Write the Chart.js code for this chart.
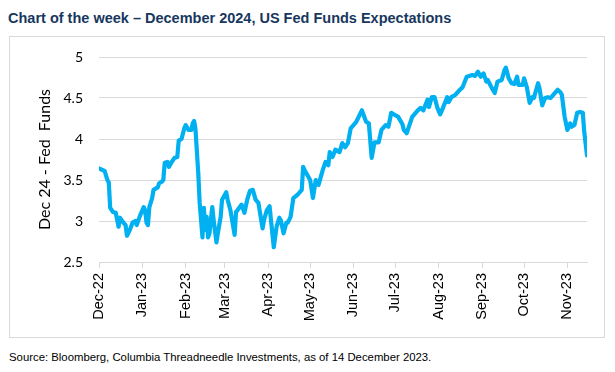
<!DOCTYPE html>
<html>
<head>
<meta charset="utf-8">
<script src="https://cdn.jsdelivr.net/npm/chart.js@4/dist/chart.umd.min.js"></script>
<style>
  html, body { margin: 0; padding: 0; background: #fff; }
  body { width: 615px; height: 372px; position: relative; overflow: hidden; }
  #title {
    position: absolute; left: 8px; top: 11px;
    font: bold 14.5px "Liberation Sans", Arial, sans-serif; line-height: 1;
    color: #17375e; white-space: nowrap;
  }
  #frame {
    position: absolute; left: 9px; top: 36px; width: 596px; height: 302px;
    box-sizing: border-box; border: 1px solid #d9d9d9;
  }
  #frame canvas { display: block; }
  #source {
    position: absolute; left: 9px; top: 352px;
    font: 11.35px "Liberation Sans", Arial, sans-serif; line-height: 1;
    color: #000; white-space: nowrap;
  }
</style>
</head>
<body>
<div id="title">Chart of the week – December 2024, US Fed Funds Expectations</div>
<div id="frame"><canvas id="fedChart" width="594" height="300"></canvas></div>
<div id="source">Source: Bloomberg, Columbia Threadneedle Investments, as of 14 December 2023.</div>

<script>
// days counted from 1 Dec 2022
const monthLabels = ['Dec-22', 'Jan-23', 'Feb-23', 'Mar-23', 'Apr-23', 'May-23', 'Jun-23', 'Jul-23', 'Aug-23', 'Sep-23', 'Oct-23', 'Nov-23'];
const monthDays = [0, 31, 62, 90, 121, 151, 182, 212, 243, 274, 304, 335];

const days = [
  0, 4, 6, 7, 8, 10, 12, 14, 15, 17, 19, 20, 22, 24, 26, 27, 29, 32, 33, 34,
  35, 36, 38, 39, 42, 43, 45, 46, 47, 49, 50, 52, 54, 56, 57, 59, 61, 62, 64, 66,
  67, 68, 69, 71, 72, 74, 75, 76, 77, 78, 79, 81, 82, 84, 85, 87, 88, 91, 92, 94,
  97, 98, 99, 102, 104, 106, 108, 110, 112, 114, 117, 118, 120, 122, 123, 125, 127, 129, 130, 132,
  134, 135, 137, 139, 142, 145, 146, 147, 151, 153, 155, 157, 160, 162, 164, 165, 167, 169, 172, 174,
  176, 178, 180, 184, 188, 191, 193, 195, 197, 200, 202, 205, 207, 209, 212, 214, 217, 218, 220, 222,
  224, 228, 230, 232, 235, 236, 238, 240, 242, 244, 246, 249, 250, 252, 255, 258, 260, 263, 267, 269,
  271, 273, 275, 277, 278, 281, 283, 285, 288, 290, 291, 293, 295, 297, 299, 300, 303, 304, 306, 308,
  310, 311, 314, 315, 317, 319, 321, 323, 325, 328, 330, 331, 333, 335, 337, 338, 340, 342, 344, 346,
  347, 349
];
const dec24Rate = [
  3.64, 3.61, 3.50, 3.47, 3.16, 3.11, 3.10, 2.93, 3.04, 2.99, 2.95, 2.82, 2.89, 2.98, 3.00, 2.95, 3.05, 3.17, 3.13, 2.98,
  2.95, 3.17, 3.28, 3.38, 3.41, 3.46, 3.48, 3.50, 3.71, 3.72, 3.66, 3.72, 3.77, 3.78, 3.98, 4.00, 4.13, 4.17, 4.11, 4.11,
  4.19, 4.22, 4.12, 3.58, 3.22, 2.80, 3.16, 2.89, 3.05, 2.80, 2.85, 3.17, 3.01, 2.74, 2.85, 3.05, 3.26, 3.35, 3.26, 3.13,
  2.83, 3.11, 3.13, 3.20, 3.10, 3.26, 3.37, 3.38, 3.26, 3.22, 2.91, 3.01, 3.13, 3.18, 3.01, 2.68, 2.93, 3.04, 3.01, 2.85,
  2.98, 2.98, 3.05, 3.28, 3.32, 3.38, 3.66, 3.62, 3.50, 3.28, 3.50, 3.44, 3.62, 3.72, 3.68, 3.84, 3.78, 3.87, 3.84, 3.95,
  3.90, 3.95, 4.13, 4.21, 4.35, 4.21, 4.19, 3.77, 3.96, 3.96, 4.11, 4.17, 4.15, 4.32, 4.29, 4.27, 4.18, 4.11, 4.07, 4.17,
  4.27, 4.35, 4.38, 4.35, 4.48, 4.39, 4.51, 4.51, 4.38, 4.30, 4.38, 4.51, 4.45, 4.51, 4.54, 4.60, 4.63, 4.76, 4.78, 4.77,
  4.82, 4.76, 4.80, 4.70, 4.72, 4.62, 4.56, 4.70, 4.72, 4.84, 4.87, 4.74, 4.68, 4.67, 4.76, 4.66, 4.66, 4.74, 4.63, 4.44,
  4.51, 4.50, 4.68, 4.62, 4.41, 4.50, 4.51, 4.50, 4.54, 4.60, 4.57, 4.54, 4.27, 4.11, 4.19, 4.15, 4.17, 4.32, 4.33, 4.32,
  4.09, 3.80
];

const yMin = 2.5;
const yMax = 5;
const yStep = 0.5;

const gridColor = '#d9d9d9';

new Chart(document.getElementById('fedChart'), {
  type: 'line',
  data: {
    datasets: [{
      label: 'Dec 24 - Fed Funds',
      data: days.map((d, i) => ({ x: d, y: dec24Rate[i] })),
      borderColor: '#00b0f0',
      backgroundColor: '#00b0f0',
      borderWidth: 4.2,
      borderJoinStyle: 'round',
      borderCapStyle: 'round',
      pointRadius: 0,
      tension: 0,
      fill: false
    }]
  },
  options: {
    responsive: false,
    animation: false,
    layout: { padding: { left: 0, right: 17, top: 20, bottom: 0 } },
    plugins: {
      legend: { display: false },
      tooltip: { enabled: false }
    },
    scales: {
      x: {
        type: 'linear',
        min: 0,
        max: days[days.length - 1],
        afterBuildTicks: scale => {
          scale.ticks = monthDays.map(v => ({ value: v }));
        },
        afterFit: scale => { scale.height = 75; },
        grid: {
          drawOnChartArea: false,
          drawTicks: true,
          tickLength: 6,
          color: gridColor
        },
        border: { display: true, color: gridColor, width: 1 },
        ticks: {
          autoSkip: false,
          minRotation: 90,
          maxRotation: 90,
          padding: 5,
          color: '#000',
          font: { family: '"Liberation Sans", Arial, sans-serif', size: 14.5 },
          callback: value => monthLabels[monthDays.indexOf(value)]
        }
      },
      y: {
        min: yMin,
        max: yMax,
        afterFit: scale => { scale.width = 89; },
        // invisible tick marks keep the labels clear of the plot
        grid: { color: gridColor, drawTicks: true, tickLength: 13, tickColor: 'rgba(0,0,0,0)' },
        border: { display: false },
        ticks: {
          stepSize: yStep,
          padding: 3,
          color: '#000',
          font: { family: 'Lato, sans-serif', size: 14 },
          callback: value => String(value)
        },
        title: {
          display: true,
          text: 'Dec 24 - Fed  Funds',
          color: '#000',
          font: { family: 'Lato, sans-serif', size: 16 },
          padding: { top: 25, bottom: 0 }
        }
      }
    }
  }
});
</script>
</body>
</html>
